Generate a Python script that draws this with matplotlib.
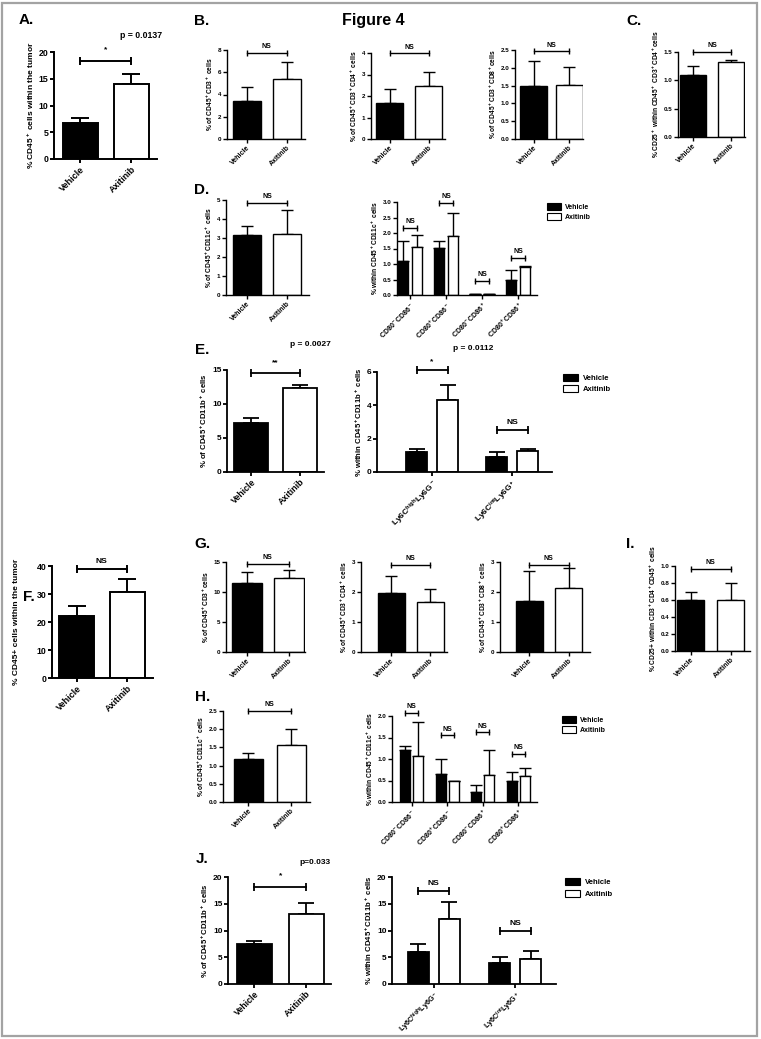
import numpy as np
import matplotlib
matplotlib.use("Agg")
import matplotlib.pyplot as plt
from matplotlib.patches import Patch, Rectangle

plt.rcParams["font.family"] = ["Liberation Sans", "DejaVu Sans"]
plt.rcParams["font.weight"] = "bold"
plt.rcParams["axes.labelweight"] = "bold"
plt.rcParams["mathtext.fontset"] = "custom"
plt.rcParams["mathtext.rm"] = "Liberation Sans:bold"
plt.rcParams["mathtext.it"] = "Liberation Sans:bold"
plt.rcParams["mathtext.bf"] = "Liberation Sans:bold"
plt.rcParams["mathtext.default"] = "bf"

# ---------------- data ----------------
groups = ["Vehicle", "Axitinib"]

a_mean, a_err = [6.8, 14.0], [0.9, 1.8]
b1_mean, b1_err = [3.4, 5.35], [1.25, 1.6]
b2_mean, b2_err = [1.68, 2.48], [0.63, 0.65]
b3_mean, b3_err = [1.5, 1.53], [0.7, 0.49]
c_mean, c_err = [1.1, 1.32], [0.15, 0.03]
d1_mean, d1_err = [3.15, 3.2], [0.47, 1.25]

dc_cats = ["CD80$^-$CD86$^-$", "CD80$^+$CD86$^-$", "CD80$^-$CD86$^+$", "CD80$^+$CD86$^+$"]
d2_veh, d2_veh_err = [1.1, 1.52, 0.04, 0.47], [0.65, 0.23, 0.0, 0.35]
d2_axi, d2_axi_err = [1.55, 1.9, 0.04, 0.9], [0.4, 0.73, 0.0, 0.03]

e1_mean, e1_err = [7.2, 12.4], [0.8, 0.4]
ly_cats = ["Ly6C$^{high}$Ly6G$^-$", "Ly6C$^{int}$Ly6G$^+$"]
e2_veh, e2_veh_err = [1.2, 0.92], [0.2, 0.3]
e2_axi, e2_axi_err = [4.35, 1.25], [0.85, 0.15]

f_mean, f_err = [22.0, 30.8], [3.8, 4.5]
g1_mean, g1_err = [11.5, 12.3], [1.8, 1.3]
g2_mean, g2_err = [1.97, 1.67], [0.55, 0.42]
g3_mean, g3_err = [1.7, 2.13], [1.0, 0.67]
i_mean, i_err = [0.6, 0.6], [0.1, 0.2]
h1_mean, h1_err = [1.17, 1.57], [0.17, 0.43]
h2_veh, h2_veh_err = [1.22, 0.65, 0.24, 0.5], [0.08, 0.35, 0.16, 0.2]
h2_axi, h2_axi_err = [1.08, 0.5, 0.63, 0.6], [0.78, 0.0, 0.57, 0.2]
j1_mean, j1_err = [7.5, 13.0], [0.5, 2.1]
j2_veh, j2_veh_err = [6.0, 3.9], [1.5, 1.2]
j2_axi, j2_axi_err = [12.2, 4.6], [3.1, 1.5]

# ---------------- figure ----------------
W, H = 761, 1039
fig = plt.figure(figsize=(W / 100, H / 100), dpi=100)

BIG = dict(lw=1.4, cap=6.5, fs=6.3, xfs=6.5, ylfs=6.0, ms=6, tfs=6.0, lp=2)
MID = dict(lw=1.3, cap=6.0, fs=6.0, xfs=6.3, ylfs=5.6, ms=6, tfs=6.0, lp=2)
SMALL = dict(lw=1.0, cap=4.5, fs=4.5, xfs=5.0, ylfs=4.8, ms=4.5, tfs=5.0, lp=2)


def add_ax(left, right, top, bot):
    ax = fig.add_axes([left / W, 1 - bot / H, (right - left) / W, (bot - top) / H])
    ax.patch.set_visible(False)
    for s in ("top", "right"):
        ax.spines[s].set_visible(False)
    return ax


def finish(ax, ymax, yticks, fmt, ylabel, sty):
    ax.set_ylim(0, ymax)
    ax.set_yticks(yticks, [fmt.format(v) for v in yticks])
    for s in ("left", "bottom"):
        ax.spines[s].set_linewidth(sty["lw"])
    ax.tick_params(axis="y", width=sty["lw"], length=3, labelsize=sty["fs"], pad=1)
    ax.tick_params(axis="x", width=sty["lw"], length=3, pad=1)
    ax.set_ylabel(ylabel, fontsize=sty["ylfs"], labelpad=sty["lp"])


def bracket(ax, x0, x1, y, text, sty, dy=1.0):
    ax.plot([x0, x1], [y, y], color="black", lw=sty["lw"], marker="|",
            ms=sty["ms"], mew=sty["lw"], clip_on=False)
    if text:
        ax.annotate(text, ((x0 + x1) / 2, y), xytext=(0, dy), textcoords="offset points",
                    ha="center", va="bottom", fontsize=sty["tfs"], annotation_clip=False)


def errs(ax, x, means, err, sty):
    ax.errorbar(x, means, yerr=[np.zeros(len(means)), err], fmt="none", ecolor="black",
                elinewidth=sty["lw"], capsize=sty["cap"], capthick=sty["lw"], zorder=1)


def two_bar(box, cen, bw, means, err, ymax, yticks, fmt, ylabel, sty):
    left, right, top, bot = box
    u = cen[1] - cen[0]
    ax = add_ax(*box)
    x = np.arange(len(means))
    ax.bar(x, means, bw / u, color=["black", "white"], edgecolor="black",
           linewidth=sty["lw"], zorder=2)
    errs(ax, x, means, err, sty)
    ax.set_xlim((left - cen[0]) / u, (right - cen[0]) / u)
    ax.set_xticks(x, groups, rotation=45, ha="right", rotation_mode="anchor",
                  fontsize=sty["xfs"])
    finish(ax, ymax, yticks, fmt, ylabel, sty)
    return ax


def grouped(box, c0, step, off, bw, cats, veh, veh_err, axi, axi_err,
            ymax, yticks, fmt, ylabel, sty, xfs=None):
    left, right, top, bot = box
    ax = add_ax(*box)
    x = np.arange(len(cats))
    o, w = off / step, bw / step
    ax.bar(x - o, veh, w, color="black", edgecolor="black", linewidth=sty["lw"], zorder=2)
    ax.bar(x + o, axi, w, color="white", edgecolor="black", linewidth=sty["lw"], zorder=2)
    errs(ax, x - o, veh, veh_err, sty)
    errs(ax, x + o, axi, axi_err, sty)
    ax.set_xlim((left - c0) / step, (right - c0) / step)
    ax.set_xticks(x, cats, rotation=45, ha="right", rotation_mode="anchor",
                  fontsize=xfs or sty["xfs"])
    finish(ax, ymax, yticks, fmt, ylabel, sty)
    return ax, o


def ftext(x, y, s, size, **kw):
    fig.text(x / W, 1 - y / H, s, fontsize=size, ha=kw.pop("ha", "center"),
             va=kw.pop("va", "center"), fontweight="bold", **kw)


def legend(x, y, fs, spacing):
    handles = [Patch(facecolor="black", edgecolor="black", lw=0.8),
               Patch(facecolor="white", edgecolor="black", lw=0.8)]
    fig.legend(handles, groups, loc="upper left", bbox_to_anchor=(x / W, 1 - y / H),
               frameon=False, fontsize=fs, handlelength=2.0, handleheight=1.1,
               handletextpad=0.6, labelspacing=spacing, borderpad=0, borderaxespad=0)


# outer frame
fig.patches.append(Rectangle((2 / W, 3 / H), 755 / W, 1033 / H, fill=False,
                             edgecolor="#a3a3a3", lw=1.6, transform=fig.transFigure))

ftext(373, 20, "Figure 4", 11.5)

# ---- A ----
ax = two_bar((54, 157, 52, 159), (80, 131), 35, a_mean, a_err, 20, [0, 5, 10, 15, 20],
             "{:g}", "% CD45$^+$ cells within the tumor", BIG)
bracket(ax, 0, 1, 18.3, "*", BIG, dy=6)
ftext(141, 35, "p = 0.0137", 6.3)
ftext(26, 20, "A.", 11)

# ---- B ----
ax = two_bar((227, 305, 50, 139), (247, 286.5), 28, b1_mean, b1_err, 8, [0, 2, 4, 6, 8],
             "{:g}", "% of CD45$^+$CD3$^+$ cells", SMALL)
bracket(ax, 0, 1, 7.75, "NS", SMALL, dy=2)
ax = two_bar((371, 445, 53, 139), (389.5, 428.5), 27, b2_mean, b2_err, 4, [0, 1, 2, 3, 4],
             "{:g}", "% of CD45$^+$CD3$^+$CD4$^+$ cells", SMALL)
bracket(ax, 0, 1, 3.98, "NS", SMALL, dy=2)
ax = two_bar((515, 583, 50, 139), (533.5, 569), 27, b3_mean, b3_err, 2.5,
             [0, 0.5, 1.0, 1.5, 2.0, 2.5], "{:.1f}", "% of CD45$^+$CD3$^+$CD8$^+$cells", SMALL)
bracket(ax, 0, 1, 2.46, "NS", SMALL, dy=2)
ftext(202, 21, "B.", 11)

# ---- C ----
ax = two_bar((678, 745, 52, 137), (693, 731), 26, c_mean, c_err, 1.5,
             [0.0, 0.5, 1.0, 1.5], "{:.1f}",
             "% CD25$^+$ within CD45$^+$ CD3$^+$CD4$^+$cells", SMALL)
bracket(ax, 0, 1, 1.5, "NS", SMALL, dy=2)
ftext(634, 21, "C.", 11)

# ---- D ----
ax = two_bar((226, 309, 200, 295), (247, 287), 28, d1_mean, d1_err, 5, [0, 1, 2, 3, 4, 5],
             "{:g}", "% of CD45$^+$CD11c$^+$ cells", SMALL)
bracket(ax, 0, 1, 4.85, "NS", SMALL, dy=2)
ax, o = grouped((397, 537, 202, 295), 410, 36, 7, 10, dc_cats, d2_veh, d2_veh_err,
                d2_axi, d2_axi_err, 3.0, [0, 0.5, 1.0, 1.5, 2.0, 2.5, 3.0], "{:.1f}",
                "% within CD45$^+$CD11c$^+$ cells", SMALL)
for k, yb in enumerate([2.16, 2.97, 0.45, 1.2]):
    bracket(ax, k - o, k + o, yb, "NS", SMALL, dy=2)
legend(547, 203, 5.0, 0.4)
ftext(202, 190, "D.", 11)

# ---- E ----
ax = two_bar((227, 324, 370, 472), (251, 300), 34, e1_mean, e1_err, 15, [0, 5, 10, 15],
             "{:g}", "% of CD45$^+$CD11b$^+$ cells", MID)
bracket(ax, 0, 1, 14.6, "**", MID, dy=5)
ftext(310, 345, "p = 0.0027", 6.0)
ax, o = grouped((377, 552, 372, 472), 432, 80, 15.5, 21, ly_cats, e2_veh, e2_veh_err,
                e2_axi, e2_axi_err, 6, [0, 2, 4, 6], "{:g}",
                "% within CD45$^+$CD11b$^+$ cells", MID, xfs=6.0)
bracket(ax, -o, o, 6.1, "*", MID, dy=4)
bracket(ax, 1 - o, 1 + o, 2.5, "NS", MID, dy=3)
ftext(473, 349, "p = 0.0112", 6.0)
legend(563, 374, 5.5, 0.35)
ftext(202, 350, "E.", 11)

# ---- F ----
F_STY = dict(BIG, lp=12)
ax = two_bar((52, 153, 566, 678), (76.5, 127), 35, f_mean, f_err, 40, [0, 10, 20, 30, 40],
             "{:g}", "% CD45+ cells within the tumor", F_STY)
bracket(ax, 0, 1, 39, "NS", BIG, dy=3)
ftext(29, 597, "F.", 11)

# ---- G ----
ax = two_bar((226, 305, 562, 652), (246.5, 288.5), 30, g1_mean, g1_err, 15, [0, 5, 10, 15],
             "{:g}", "% of CD45$^+$CD3$^+$cells", SMALL)
bracket(ax, 0, 1, 14.7, "NS", SMALL, dy=2)
ax = two_bar((361, 447, 562, 652), (391, 430), 27, g2_mean, g2_err, 3, [0, 1, 2, 3],
             "{:g}", "% of CD45$^+$CD3$^+$CD4$^+$ cells", SMALL)
bracket(ax, 0, 1, 2.9, "NS", SMALL, dy=2)
ax = two_bar((500, 590, 562, 652), (529, 568.5), 27, g3_mean, g3_err, 3, [0, 1, 2, 3],
             "{:g}", "% of CD45$^+$CD3$^+$CD8$^+$ cells", SMALL)
bracket(ax, 0, 1, 2.9, "NS", SMALL, dy=2)
ftext(202, 544, "G.", 11)

# ---- I ----
ax = two_bar((675, 750, 566, 651), (690.5, 730.5), 27, i_mean, i_err, 1.0,
             [0.0, 0.2, 0.4, 0.6, 0.8, 1.0], "{:.1f}",
             "% CD25+ within CD3$^+$CD4$^+$CD45$^+$ cells", SMALL)
bracket(ax, 0, 1, 0.97, "NS", SMALL, dy=2)
ftext(630, 544, "I.", 11)

# ---- H ----
ax = two_bar((223, 310, 711, 802), (248.5, 291), 29, h1_mean, h1_err, 2.5,
             [0.0, 0.5, 1.0, 1.5, 2.0, 2.5], "{:.1f}", "% of CD45$^+$CD11c$^+$ cells", SMALL)
bracket(ax, 0, 1, 2.5, "NS", SMALL, dy=2)
ax, o = grouped((392, 537, 716, 802), 411.5, 35.5, 6.5, 10, dc_cats, h2_veh, h2_veh_err,
                h2_axi, h2_axi_err, 2.0, [0.0, 0.5, 1.0, 1.5, 2.0], "{:.1f}",
                "% within CD45$^+$CD11c$^+$ cells", SMALL)
for k, yb in enumerate([2.07, 1.55, 1.62, 1.12]):
    bracket(ax, k - o, k + o, yb, "NS", SMALL, dy=2)
legend(562, 716, 5.0, 0.4)
ftext(203, 697, "H.", 11)

# ---- J ----
ax = two_bar((228, 331, 877, 984), (254.5, 306), 35, j1_mean, j1_err, 20, [0, 5, 10, 15, 20],
             "{:g}", "% of CD45$^+$CD11b$^+$ cells", MID)
bracket(ax, 0, 1, 18.2, "*", MID, dy=5)
ftext(315, 863, "p=0.033", 6.0)
ax, o = grouped((392, 556, 877, 984), 433.5, 81.5, 15.5, 21, ly_cats, j2_veh, j2_veh_err,
                j2_axi, j2_axi_err, 20, [0, 5, 10, 15, 20], "{:g}",
                "% within CD45$^+$CD11b$^+$ cells", MID, xfs=5.2)
bracket(ax, -o, o, 17.3, "NS", MID, dy=3)
bracket(ax, 1 - o, 1 + o, 9.9, "NS", MID, dy=3)
legend(565, 878, 5.5, 0.45)
ftext(202, 859, "J.", 11)

fig.savefig("out.png", dpi=100)
